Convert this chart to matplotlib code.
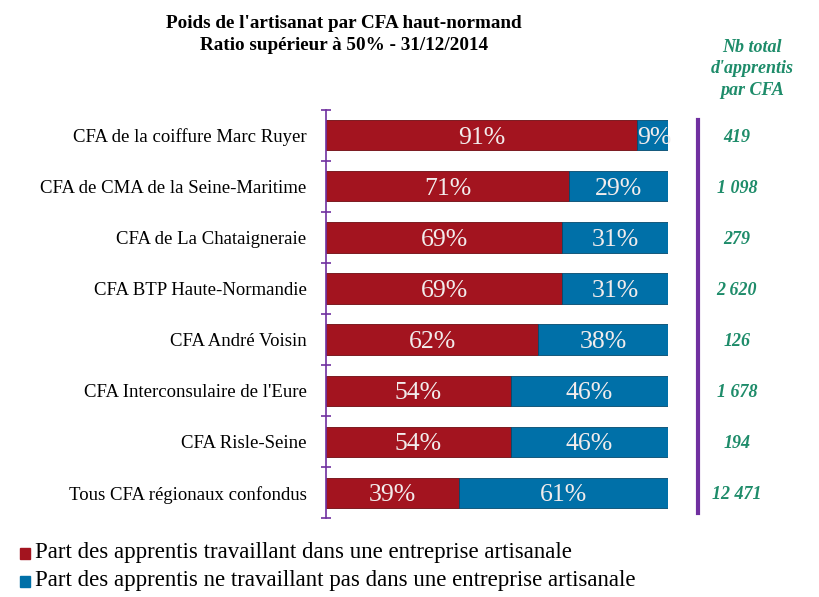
import matplotlib
matplotlib.use("Agg")
import matplotlib.pyplot as plt
import numpy as np

CATS = ["CFA de la coiffure Marc Ruyer", "CFA de CMA de la Seine-Maritime",
        "CFA de La Chataigneraie", "CFA BTP Haute-Normandie", "CFA André Voisin",
        "CFA Interconsulaire de l'Eure", "CFA Risle-Seine", "Tous CFA régionaux confondus"]
ARTISAN = [91, 71, 69, 69, 62, 54, 54, 39]
NON_ARTISAN = [9, 29, 31, 31, 38, 46, 46, 61]
TOTAUX = ["419", "1 098", "279", "2 620", "126", "1 678", "194", "12 471"]
LEG = ["Part des apprentis travaillant dans une entreprise artisanale",
       "Part des apprentis ne travaillant pas dans une entreprise artisanale"]

RED = "#A3141F"
BLUE = "#0070A8"
PURPLE = "#7030A0"
GREEN = "#1E8C6A"
plt.rcParams["font.family"] = ["Liberation Serif", "DejaVu Serif"]

fig = plt.figure(figsize=(8.19, 5.97), dpi=100)
ax = fig.add_axes([0.398, 0.132, 0.418, 0.684])

y = np.arange(len(CATS))
h = 0.59
ax.barh(y, ARTISAN, height=h, color=RED, edgecolor="#6E0A10", linewidth=0.6)
ax.barh(y, NON_ARTISAN, left=ARTISAN, height=h, color=BLUE, edgecolor="#034A6E", linewidth=0.6)

for i in range(len(CATS)):
    ax.text(ARTISAN[i] / 2, y[i], f"{ARTISAN[i]}%", ha="center", va="center_baseline",
            color="#F2ECEC", fontsize=18.5)
    xb = ARTISAN[i] + NON_ARTISAN[i] / 2
    if NON_ARTISAN[i] < 15:
        xb = ARTISAN[i] + NON_ARTISAN[i] / 2 + 0.5
    ax.text(xb, y[i], f"{NON_ARTISAN[i]}%", ha="center", va="center_baseline",
            color="#F2ECEC", fontsize=18.5)
    ax.text(1.2, y[i], TOTAUX[i], transform=ax.get_yaxis_transform(),
            ha="center", va="center_baseline", color=GREEN, fontsize=13,
            fontweight="bold", fontstyle="italic")

ax.set_xlim(0, 100)
ax.set_ylim(len(CATS) - 0.5, -0.5)
ax.set_yticks(y)
ax.set_yticklabels(CATS, fontsize=13.5)
ax.set_yticks(np.arange(-0.5, len(CATS)), minor=True)
ax.tick_params(axis="y", which="major", length=0, pad=14)
ax.tick_params(axis="y", which="minor", length=7, direction="inout", color=PURPLE, width=1.2)
ax.set_xticks([])
for s in ["top", "right", "bottom"]:
    ax.spines[s].set_visible(False)
ax.spines["left"].set_color(PURPLE)
ax.spines["left"].set_linewidth(1.2)

# purple separator before totals column
ax.plot([1.088, 1.088], [-0.3, 7.4], transform=ax.get_yaxis_transform(),
        color=PURPLE, linewidth=3, clip_on=False)

fig.text(0.42, 0.975, "Poids de l'artisanat par CFA haut-normand\nRatio supérieur à 50% - 31/12/2014",
         ha="center", va="top", fontsize=13.8, fontweight="bold", linespacing=1.4)
fig.text(0.918, 0.935, "Nb total\nd'apprentis\npar CFA", ha="center", va="top",
         fontsize=13, color=GREEN, fontweight="bold", fontstyle="italic", linespacing=1.35)

for k, (lab, c) in enumerate(zip(LEG, [RED, BLUE])):
    yy = 0.075 - k * 0.047
    fig.patches.append(plt.Rectangle((0.024, yy - 0.012), 0.013, 0.019,
                                     transform=fig.transFigure, color=c))
    fig.text(0.043, yy, lab, ha="left", va="center", fontsize=16.5)

fig.savefig("out.png", dpi=100)
